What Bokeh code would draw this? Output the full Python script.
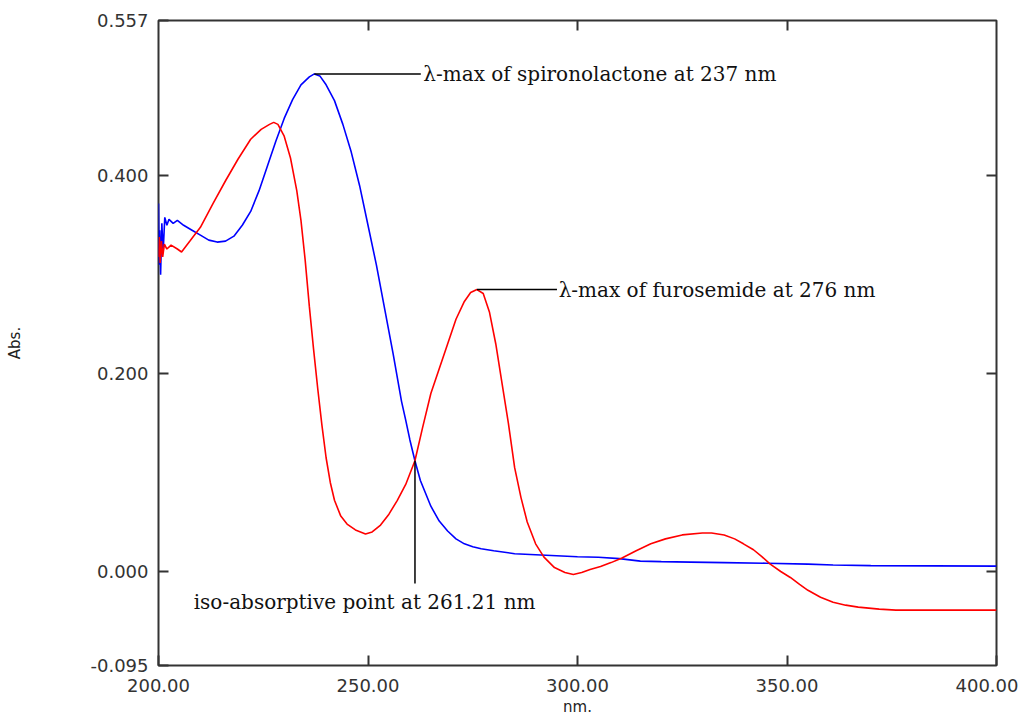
from bokeh.plotting import figure
from bokeh.models import Range1d, FixedTicker, NumeralTickFormatter, LinearAxis
from bokeh.core.properties import value
from bokeh.embed import file_html
from bokeh.resources import INLINE

# --- data (wavelength nm, absorbance) ---
spiro_nm = [200.0, 200.15, 200.3, 200.5, 200.8, 201.1, 201.5, 202.0, 202.5, 203.5, 204.5, 206, 208, 210, 212,
            214, 216, 218, 220, 222, 224, 226, 228, 230, 232, 234, 236, 237.2, 238.5, 240, 242, 244, 246,
            248, 250, 252, 254, 256, 258, 259, 260, 261.2, 262.5, 265, 267, 269, 271, 273, 275, 277, 280,
            285, 290, 295, 300, 305, 310, 315, 320, 327, 335, 345, 355, 361, 370, 400]
spiro_abs = [0.372, 0.310, 0.345, 0.300, 0.352, 0.322, 0.358, 0.350, 0.356, 0.352, 0.355, 0.350, 0.345, 0.340, 0.335,
             0.333, 0.334, 0.339, 0.350, 0.364, 0.385, 0.410, 0.435, 0.458, 0.477, 0.492, 0.500, 0.503, 0.501, 0.492, 0.476, 0.452, 0.424,
             0.390, 0.350, 0.310, 0.265, 0.220, 0.172, 0.153, 0.133, 0.112, 0.092, 0.066, 0.051, 0.041, 0.033, 0.028, 0.025, 0.023, 0.021,
             0.018, 0.017, 0.016, 0.015, 0.0145, 0.013, 0.0105, 0.010, 0.0095, 0.009, 0.0084, 0.0075, 0.0066, 0.006, 0.0055]

furo_nm = [200.0, 200.2, 200.4, 200.7, 201.0, 201.4, 202.0, 203.0, 204.5, 205.5, 207.5, 210, 213, 216, 219,
           222, 224.5, 226.5, 227.5, 228.5, 230, 231.5, 233, 234, 235, 236, 237, 238, 239, 240, 241, 242,
           243.5, 245, 247, 249.4, 251, 253, 255, 257, 259, 261.2, 263, 265, 267, 269, 271, 273, 274.5, 276,
           277.5, 279, 280.5, 282, 283.5, 285, 286.5, 288, 290, 292, 294.5, 297, 299, 301, 303, 305.5, 308,
           310.5, 314, 317.5, 321, 325, 329.8, 332, 335, 337.5, 339.6, 342, 344, 346, 348.5, 350.8, 353, 355,
           358, 361, 364, 367, 372, 376, 400]
furo_abs = [0.318, 0.338, 0.312, 0.334, 0.318, 0.331, 0.326, 0.330, 0.326, 0.323, 0.334, 0.348, 0.372, 0.395, 0.417,
            0.437, 0.447, 0.452, 0.454, 0.452, 0.440, 0.418, 0.385, 0.355, 0.315, 0.268, 0.225, 0.185, 0.148, 0.115, 0.090, 0.072,
            0.056, 0.048, 0.042, 0.038, 0.040, 0.047, 0.058, 0.072, 0.088, 0.112, 0.145, 0.180, 0.205, 0.230, 0.255, 0.273, 0.282, 0.285,
            0.281, 0.262, 0.230, 0.190, 0.150, 0.105, 0.075, 0.050, 0.028, 0.0145, 0.004, -0.001, -0.003, -0.001, 0.002, 0.005, 0.009,
            0.0135, 0.021, 0.028, 0.033, 0.037, 0.039, 0.039, 0.037, 0.033, 0.028, 0.022, 0.015, 0.0075, 0.000, -0.006, -0.013, -0.019,
            -0.026, -0.031, -0.034, -0.036, -0.038, -0.039, -0.039]

x_ticks = [200, 250, 300, 350, 400]
y_ticks = [-0.095, 0.0, 0.2, 0.4, 0.557]

iso_nm = 261.21
iso_abs = 0.112
iso_line_bottom = -0.012

label_spiro = "\u03bb-max of spironolactone at 237 nm"
label_furo = "\u03bb-max of furosemide at 276 nm"
label_iso = "iso-absorptive point at 261.21 nm"
spiro_label_x = 263.2
furo_label_x = 295.5
iso_label_x = 208.4
iso_label_y = -0.031

p = figure(width=1018, height=720, output_backend="svg", toolbar_location=None,
           x_range=Range1d(200, 400), y_range=Range1d(-0.095, 0.557),
           min_border_left=158, min_border_right=22, min_border_top=20, min_border_bottom=55,
           background_fill_color="white", border_fill_color="white")
p.grid.visible = False
p.outline_line_color = "#333333"
p.outline_line_width = 2

tick_font = "DejaVu Sans"
xa = p.xaxis[0]
xa.ticker = FixedTicker(ticks=x_ticks)
xa.formatter = NumeralTickFormatter(format="0.00")
xa.axis_label = "nm."
ya = p.yaxis[0]
ya.ticker = FixedTicker(ticks=y_ticks)
ya.formatter = NumeralTickFormatter(format="0.000")
ya.axis_label = "Abs."
for ax in (xa, ya):
    ax.axis_line_color = None
    ax.major_tick_in = 10
    ax.major_tick_out = 0
    ax.major_tick_line_color = "#333333"
    ax.major_tick_line_width = 2
    ax.minor_tick_line_color = None
    ax.major_label_text_font = tick_font
    ax.major_label_text_font_size = "18px"
    ax.major_label_text_color = "#333333"
    ax.axis_label_text_font = tick_font
    ax.axis_label_text_font_size = "15px"
    ax.axis_label_text_font_style = "normal"
    ax.axis_label_text_color = "#222222"
xa.major_label_standoff = 13
xa.axis_label_standoff = 3
ya.major_label_standoff = 10
ya.axis_label_standoff = 63

top = LinearAxis(ticker=FixedTicker(ticks=[], minor_ticks=x_ticks[1:-1]))
right = LinearAxis(ticker=FixedTicker(ticks=[], minor_ticks=y_ticks[1:-1]))
for ax in (top, right):
    ax.axis_line_color = None
    ax.major_tick_line_color = None
    ax.minor_tick_in = 10
    ax.minor_tick_out = 0
    ax.minor_tick_line_color = "#333333"
    ax.minor_tick_line_width = 2
    ax.major_label_standoff = 0
p.add_layout(top, "above")
p.add_layout(right, "right")

p.line(spiro_nm, spiro_abs, line_color="#0000ff", line_width=1.6)
p.line(furo_nm, furo_abs, line_color="#ff0000", line_width=1.6)

# annotations
i_s = spiro_abs.index(max(spiro_abs))
sp_x, sp_y = spiro_nm[i_s], spiro_abs[i_s]
i_f = max(range(len(furo_nm)), key=lambda i: furo_abs[i] if furo_nm[i] > 260 else -1)
fu_x, fu_y = furo_nm[i_f], furo_abs[i_f]

p.segment(x0=[sp_x, fu_x, iso_nm], y0=[sp_y, fu_y, iso_abs],
          x1=[spiro_label_x - 0.6, furo_label_x - 0.4, iso_nm], y1=[sp_y, fu_y, iso_line_bottom],
          line_color="black", line_width=1.5)

p.text(x=[spiro_label_x, furo_label_x, iso_label_x], y=[sp_y, fu_y, iso_label_y],
       text=[label_spiro, label_furo, label_iso],
       text_font=value("DejaVu Serif"), text_font_size=value("20px"),
       text_baseline="middle", text_align="left", text_color="#111111")

open("out.html", "w").write(file_html(p, INLINE))
